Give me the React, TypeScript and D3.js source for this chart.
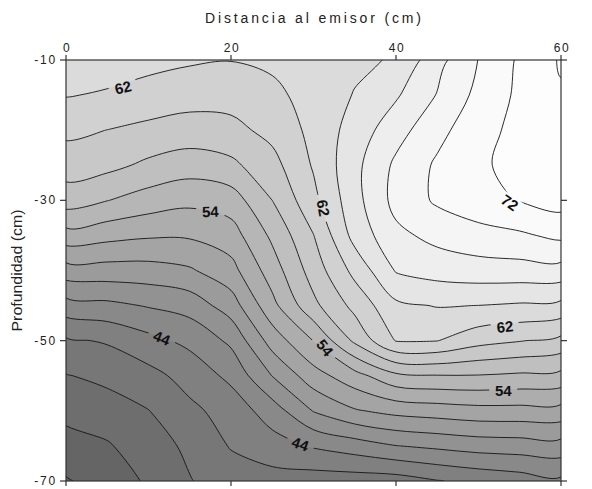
import React from "react";
import * as d3 from "d3";

// Sampling positions of the measurement grid
const distances = [0, 5, 10, 15, 20, 25, 30, 35, 40, 45, 50, 55, 60];
const depths = [-10, -15, -20, -25, -30, -35, -40, -45, -50, -55, -60, -65, -70];

// Measured values, one row per depth (left to right = distance from the emitter)
const depth10 = [63.2, 62.9, 62.6, 62.25, 62.05, 62.4, 63.0, 63.6, 64.2, 67.3, 70.05, 72.3, 74.2];
const depth15 = [62.1, 61.8, 61.25, 60.8, 60.8, 61.5, 62.8, 64.1, 65.75, 68.1, 70.55, 72.4, 73.8];
const depth20 = [60.45, 59.98, 59.5, 59.15, 59.4, 60.6, 62.55, 64.85, 67.2, 69.4, 71.25, 72.6, 73.2];
const depth25 = [58.95, 58.55, 57.6, 56.95, 57.55, 59.3, 62.2, 65.45, 68.4, 70.3, 71.7, 72.6, 72.8];
const depth30 = [56.95, 56.05, 55.1, 54.5, 55.0, 58.0, 61.45, 65.3, 68.65, 70.3, 71.3, 72.1, 72.8];
const depth35 = [53.2, 52.65, 52.25, 52.25, 53.1, 56.4, 59.95, 64.7, 67.5, 68.6, 69.25, 69.7, 70.45];
const depth40 = [49.1, 49.15, 49.2, 49.75, 51.3, 55.0, 58.9, 62.6, 66.15, 66.8, 67.15, 67.2, 67.25];
const depth45 = [45.15, 45.5, 46.15, 46.8, 49.0, 53.4, 57.5, 60.6, 63.6, 64.1, 63.98, 63.75, 63.45];
const depth50 = [41.7, 42.2, 43.4, 44.5, 46.4, 50.85, 54.05, 58.4, 62.1, 62.05, 60.7, 60.1, 59.45];
const depth55 = [39.9, 40.5, 41.35, 42.75, 44.5, 48.05, 51.15, 53.25, 55.55, 55.9, 55.9, 55.65, 55.4];
const depth60 = [38.55, 39.1, 39.95, 41.55, 42.8, 45.0, 48.1, 49.8, 50.6, 50.95, 51.3, 51.3, 51.25];
const depth65 = [37.25, 37.8, 39.1, 40.4, 42.15, 43.15, 44.2, 45.0, 45.95, 46.4, 46.85, 47.0, 47.2];
const depth70 = [35.8, 37.0, 38.25, 39.9, 40.9, 41.2, 41.0, 41.0, 41.1, 41.9, 42.5, 43.0, 43.6];

// Contour levels (every 2 units)
const contourLevels = [36, 38, 40, 42, 44, 46, 48, 50, 52, 54, 56, 58, 60, 62, 64, 66, 68, 70, 72, 74];

// Axis ticks
const xTicks = [0, 20, 40, 60];
const yTicks = [-10, -30, -50, -70];

// Contour labels: value, position (distance, depth) and text angle
const labelValues = [62, 54, 62, 72, 62, 54, 54, 44, 44];
const labelDist = [6.9, 17.5, 31.2, 53.8, 53.2, 31.4, 53.0, 11.6, 28.4];
const labelDepth = [-13.9, -31.6, -31.1, -30.3, -48.0, -51.0, -57.1, -49.6, -64.7];
const labelAngle = [-14, -2, 80, 35, -6, 52, 0, 22, 20];

const W = 592;
const H = 489;
const LEFT = 66;
const RIGHT = 561;
const TOP = 60;
const BOTTOM = 481;

const grayLevel = d3
  .scaleLinear()
  .domain([34, 44, 54, 62, 66, 70, 74])
  .range([88, 132, 177, 214, 234, 248, 255])
  .clamp(true);
const fillFor = (v: number) => {
  const g = Math.round(grayLevel(v));
  return `rgb(${g},${g},${g})`;
};

export default function App() {
  const x = d3.scaleLinear().domain([0, 60]).range([LEFT, RIGHT]);
  const y = d3.scaleLinear().domain([-10, -70]).range([TOP, BOTTOM]);

  const grid = [
    depth10, depth15, depth20, depth25, depth30, depth35, depth40,
    depth45, depth50, depth55, depth60, depth65, depth70,
  ];
  const nx = distances.length;
  const ny = depths.length;
  const stepX = distances[1] - distances[0];
  const stepY = depths[1] - depths[0];
  const values = grid.flat();

  const bands = d3.contours().size([nx, ny]).thresholds(contourLevels)(values);

  // grid coordinates from d3.contours put sample i at i + 0.5
  const toPx = (p: number[]): [number, number] => [
    x(distances[0] + (p[0] - 0.5) * stepX),
    y(depths[0] + (p[1] - 0.5) * stepY),
  ];
  const smooth = d3.line().curve(d3.curveCatmullRomClosed.alpha(0.5));
  const pathFor = (mp: any) =>
    mp.coordinates
      .map((poly: number[][][]) =>
        poly.map((ring) => smooth(ring.slice(0, -1).map(toPx)) || "").join("")
      )
      .join("");

  const paths = bands.map((b) => ({ value: b.value, d: pathFor(b) }));

  const labelFont = "'Liberation Sans', Arial, sans-serif";

  return (
    <svg
      width={W}
      height={H}
      style={{ position: "absolute", left: 0, top: 0, background: "#fff" }}
      fontFamily={labelFont}
    >
      <defs>
        <clipPath id="plotClip">
          <rect x={LEFT} y={TOP} width={RIGHT - LEFT} height={BOTTOM - TOP} />
        </clipPath>
        <mask id="labelGaps" maskUnits="userSpaceOnUse" x={0} y={0} width={W} height={H}>
          <rect x={0} y={0} width={W} height={H} fill="#fff" />
          {labelValues.map((v, i) => (
            <rect
              key={i}
              x={-14}
              y={-7}
              width={28}
              height={14}
              fill="#000"
              transform={`translate(${x(labelDist[i])},${y(labelDepth[i])}) rotate(${labelAngle[i]})`}
            />
          ))}
        </mask>
      </defs>

      <g clipPath="url(#plotClip)">
        <rect
          x={LEFT}
          y={TOP}
          width={RIGHT - LEFT}
          height={BOTTOM - TOP}
          fill={fillFor(contourLevels[0] - 1)}
        />
        {paths.map((p) => (
          <path key={`f${p.value}`} d={p.d} fill={fillFor(p.value + 1)} fillRule="evenodd" stroke="none" />
        ))}
        <g mask="url(#labelGaps)">
          {paths.map((p) => (
            <path
              key={`l${p.value}`}
              d={p.d}
              fill="none"
              stroke="#151515"
              strokeWidth={0.9}
            />
          ))}
        </g>
      </g>

      {labelValues.map((v, i) => (
        <text
          key={i}
          transform={`translate(${x(labelDist[i])},${y(labelDepth[i])}) rotate(${labelAngle[i]})`}
          textAnchor="middle"
          dominantBaseline="central"
          fontSize={15}
          fontWeight="bold"
          fill="#111"
        >
          {v}
        </text>
      ))}

      {/* frame */}
      <rect
        x={LEFT}
        y={TOP}
        width={RIGHT - LEFT}
        height={BOTTOM - TOP}
        fill="none"
        stroke="#333"
        strokeWidth={1.2}
      />

      {/* x ticks: top (labelled) and bottom */}
      {xTicks.map((t) => (
        <g key={`xt${t}`}>
          <line x1={x(t)} x2={x(t)} y1={TOP} y2={TOP - 5} stroke="#333" strokeWidth={1.2} />
          <line x1={x(t)} x2={x(t)} y1={BOTTOM} y2={BOTTOM + 5} stroke="#333" strokeWidth={1.2} />
          <text
            x={x(t) + 1}
            y={TOP - 8}
            textAnchor="middle"
            fontSize={12}
            letterSpacing={1.5}
            fill="#222"
          >
            {t}
          </text>
        </g>
      ))}

      {/* y ticks: left (labelled) and right */}
      {yTicks.map((t) => (
        <g key={`yt${t}`}>
          <line x1={LEFT} x2={LEFT - 6} y1={y(t)} y2={y(t)} stroke="#333" strokeWidth={1.2} />
          <line x1={RIGHT} x2={RIGHT + 6} y1={y(t)} y2={y(t)} stroke="#333" strokeWidth={1.2} />
          <text
            x={LEFT - 9}
            y={y(t)}
            textAnchor="end"
            dominantBaseline="central"
            fontSize={12}
            letterSpacing={1.8}
            fill="#222"
          >
            {t}
          </text>
        </g>
      ))}

      <text
        x={313}
        y={23}
        textAnchor="middle"
        fontSize={14}
        textLength={216}
        lengthAdjust="spacing"
        fill="#222"
      >
        Distancia al emisor (cm)
      </text>

      <text
        transform={`translate(22,${(TOP + BOTTOM) / 2}) rotate(-90)`}
        textAnchor="middle"
        fontSize={15}
        textLength={122}
        lengthAdjust="spacingAndGlyphs"
        fill="#222"
      >
        Profundidad (cm)
      </text>
    </svg>
  );
}
